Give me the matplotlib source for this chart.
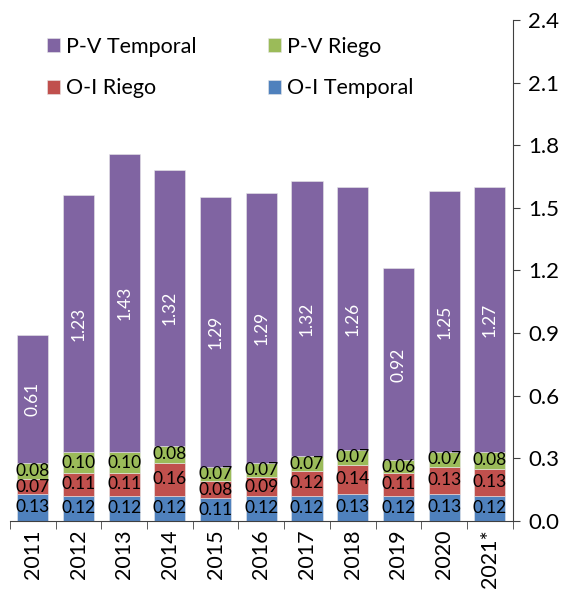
import matplotlib.pyplot as plt
import numpy as np

years = ['2011', '2012', '2013', '2014', '2015', '2016', '2017', '2018', '2019', '2020', '2021*']
oi_temporal = [0.13, 0.12, 0.12, 0.12, 0.11, 0.12, 0.12, 0.13, 0.12, 0.13, 0.12]
oi_riego = [0.07, 0.11, 0.11, 0.16, 0.08, 0.09, 0.12, 0.14, 0.11, 0.13, 0.13]
pv_riego = [0.08, 0.10, 0.10, 0.08, 0.07, 0.07, 0.07, 0.07, 0.06, 0.07, 0.08]
pv_temporal = [0.61, 1.23, 1.43, 1.32, 1.29, 1.29, 1.32, 1.26, 0.92, 1.25, 1.27]

plt.rcParams['font.family'] = ['Lato', 'DejaVu Sans']

fig = plt.figure(figsize=(5.68, 5.93), dpi=100)
ax = fig.add_axes([0.0176, 0.1214, 0.885, 0.845])

x = np.arange(len(years))
w = 0.68
series = [
    (oi_temporal, 'O-I Temporal', '#4F81BD', 'black', 0),
    (oi_riego, 'O-I Riego', '#C0504D', 'black', 0),
    (pv_riego, 'P-V Riego', '#9BBB59', 'black', 0),
    (pv_temporal, 'P-V Temporal', '#8064A2', 'white', 90),
]
bottom = np.zeros(len(years))
bars = {}
for vals, name, color, tcolor, rot in series:
    vals = np.array(vals)
    b = ax.bar(x, vals, w, bottom=bottom, color=color, label=name,
               edgecolor='#e8e8e8', linewidth=0.4)
    bars[name] = b
    for xi, bi, v in zip(x, bottom, vals):
        ax.text(xi, bi + v / 2, f'{v:.2f}', ha='center', va='center',
                color=tcolor, rotation=rot, fontsize=12.5)
    bottom = bottom + vals

ax.set_xlim(-0.5, len(years) - 0.5)
ax.set_ylim(0, 2.4)
ax.set_yticks(np.arange(0, 2.41, 0.3))
ax.set_yticklabels([f'{v:.1f}' for v in np.arange(0, 2.41, 0.3)])
ax.yaxis.tick_right()
ax.spines['left'].set_visible(False)
ax.spines['top'].set_visible(False)
ax.spines['right'].set_color('#404040')
ax.spines['bottom'].set_color('#404040')
ax.tick_params(axis='y', direction='out', length=5, labelsize=16, color='#404040', pad=6)

ax.set_xticks(x)
ax.set_xticklabels(years, rotation=90, fontsize=15.5)
ax.tick_params(axis='x', length=0, pad=6)
ax.set_xticks(np.arange(-0.5, len(years), 1), minor=True)
ax.tick_params(axis='x', which='minor', length=6, direction='out', color='#404040')

handles = [bars['P-V Temporal'], bars['O-I Riego'], bars['P-V Riego'], bars['O-I Temporal']]
labels = ['P-V Temporal', 'O-I Riego', 'P-V Riego', 'O-I Temporal']
ax.legend(handles, labels, ncol=2, loc='upper left', bbox_to_anchor=(0.035, 1.005),
          frameon=False, fontsize=15.5, handlelength=0.6, handleheight=0.6,
          handletextpad=0.3, columnspacing=3.3, labelspacing=1.0)

fig.savefig('out.png', dpi=100)
